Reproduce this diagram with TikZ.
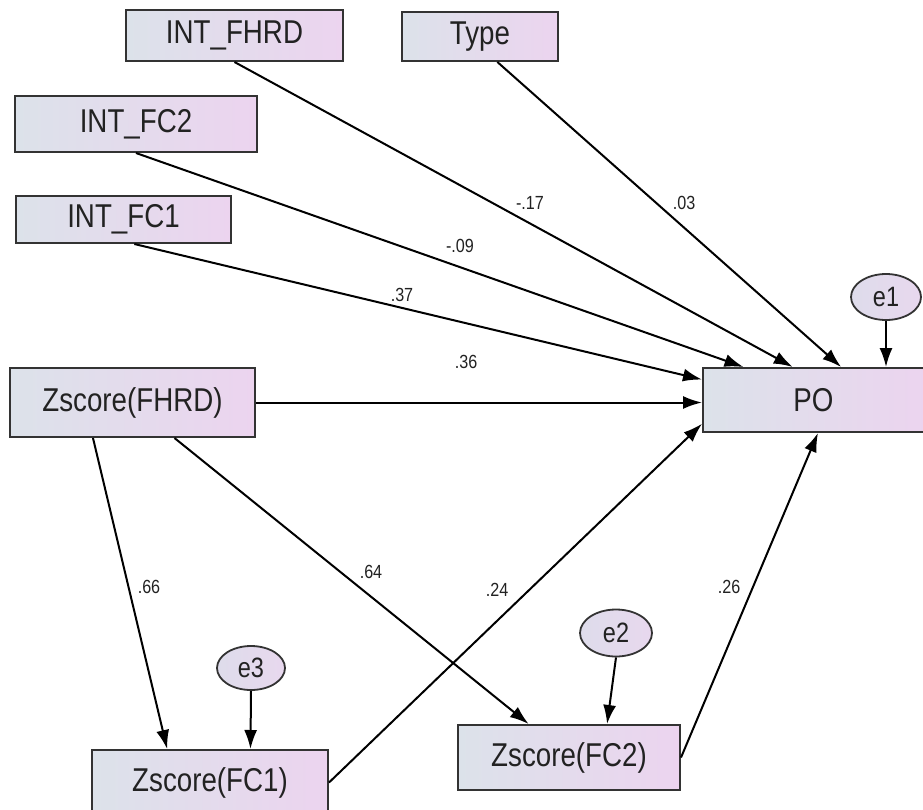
\documentclass[tikz,border=0pt]{standalone}
\usepackage{fontspec}
\setmainfont{Liberation Sans}
\newfontfamily\boxfont[FakeStretch=0.84]{Liberation Sans}
\newfontfamily\labfont[FakeStretch=0.85]{Liberation Sans}
\usetikzlibrary{arrows.meta,calc,shapes.geometric}
\definecolor{boxleft}{HTML}{DCE2EA}
\definecolor{boxright}{HTML}{ECD4EF}
\definecolor{ellleft}{HTML}{DEDCEB}
\definecolor{ellright}{HTML}{E8D8EE}
\definecolor{edge}{HTML}{333333}
\definecolor{txt}{HTML}{222222}
\tikzset{
  varbox/.style={draw=edge, line width=2pt, left color=boxleft, right color=boxright,
    inner sep=0pt, text=txt, font=\boxfont\fontsize{33}{35}\selectfont},
  errell/.style={ellipse, draw=edge, line width=1.8pt, left color=ellleft, right color=ellright,
    inner sep=0pt, minimum width=70pt, minimum height=46pt, text=txt,
    font=\boxfont\fontsize{28}{30}\selectfont},
  path/.style={line width=2pt, draw=black, -{Latex[length=19pt,width=13pt]}},
  coef/.style={text=txt, inner sep=0pt, font=\labfont\fontsize{19}{21}\selectfont}
}
\begin{document}
\begin{tikzpicture}[x=1pt,y=-1pt]
\useasboundingbox (0,0) rectangle (923,809);
% observed variables
\node[varbox, minimum width=217pt, minimum height=51pt] (ifhrd) at (234.5,35.5) {INT\_FHRD};
\node[varbox, minimum width=156pt, minimum height=49pt] (type) at (480,36.5) {Type};
\node[varbox, minimum width=242pt, minimum height=56pt] (ifc2) at (136,124) {INT\_FC2};
\node[varbox, minimum width=215pt, minimum height=47pt] (ifc1) at (123.5,219.5) {INT\_FC1};
\node[varbox, minimum width=245pt, minimum height=69pt] (fhrd) at (132.5,402.5) {Zscore(FHRD)};
\node[varbox, minimum width=226pt, minimum height=64pt, anchor=west] (po) at (702,400) {\hspace*{-5pt}PO};
\node[varbox, minimum width=236pt, minimum height=65pt] (fc1) at (210,782.5) {Zscore(FC1)};
\node[varbox, minimum width=222pt, minimum height=65pt] (fc2) at (569,757.5) {Zscore(FC2)};
% error terms
\node[errell] (e1) at (886,297) {e1};
\node[errell, minimum width=72pt, minimum height=47pt] (e2) at (616,633) {e2};
\node[errell, minimum width=68pt, minimum height=44pt] (e3) at (251,668) {e3};
% anchor points on the boxes
\coordinate (poT1) at ($(po.north west)!0.186*221/226!(po.north east)$);
\coordinate (poT2) at ($(po.north west)!0.407*221/226!(po.north east)$);
\coordinate (poT3) at ($(po.north west)!0.624*221/226!(po.north east)$);
\coordinate (poL1) at ($(po.north west)!0.19!(po.south west)$);
\coordinate (poL3) at ($(po.north west)!0.86!(po.south west)$);
\coordinate (poB) at ($(po.south west)!0.52*221/226!(po.south east)$);
\coordinate (typeB) at ($(type.south west)!0.61!(type.south east)$);
\coordinate (ifc1B) at ($(ifc1.south west)!0.55!(ifc1.south east)$);
\coordinate (fhrdB1) at ($(fhrd.south west)!0.34!(fhrd.south east)$);
\coordinate (fhrdB2) at ($(fhrd.south west)!0.67!(fhrd.south east)$);
\coordinate (fc1T1) at ($(fc1.north west)!0.32!(fc1.north east)$);
\coordinate (fc1T2) at ($(fc1.north west)!0.67!(fc1.north east)$);
\coordinate (fc2T1) at ($(fc2.north west)!0.32!(fc2.north east)$);
\coordinate (fc2T2) at ($(fc2.north west)!0.67!(fc2.north east)$);
% paths
\draw[path] (ifhrd.south) -- (poT2);
\draw[path] (typeB) -- (poT3);
\draw[path] (ifc2.south) -- (poT1);
\draw[path] (ifc1B) -- (poL1);
\draw[path] (fhrd.east) -- (fhrd.east -| po.west);
\draw[path] (e1.south) -- (e1.south |- po.north);
\draw[path] (fhrdB1) -- (fc1T1);
\draw[path] (fhrdB2) -- (fc2T1);
\draw[path] (e3.south) -- (fc1T2);
\draw[path] (e2.south) -- (fc2T2);
\draw[path] (fc1.east) -- (poL3);
\draw[path] (fc2.east) -- (poB);
% coefficients
\node[coef] (c1) at (530,203) {-.17};
\node[coef] (c2) at (684,203) {.03};
\node[coef] (c3) at (460,246) {-.09};
\node[coef] (c4) at (402,295) {.37};
\node[coef] (c5) at (466,362) {.36};
\node[coef] (c6) at (149,587) {.66};
\node[coef] (c7) at (371,572) {.64};
\node[coef] (c8) at (497,590) {.24};
\node[coef] (c9) at (729,587) {.26};
\end{tikzpicture}
\end{document}
